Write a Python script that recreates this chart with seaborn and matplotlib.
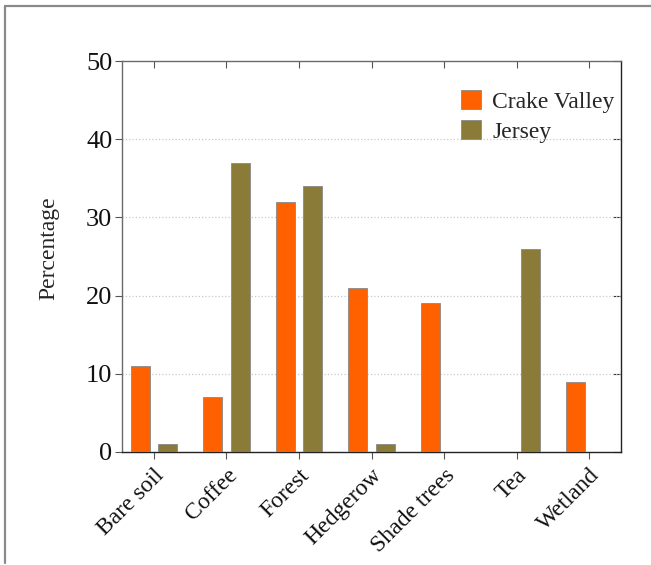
import matplotlib
matplotlib.use("Agg")
import matplotlib.pyplot as plt
from matplotlib.lines import Line2D
import seaborn as sns
import pandas as pd

categories = ["Bare soil", "Coffee", "Forest", "Hedgerow", "Shade trees", "Tea", "Wetland"]
crake_valley = [11, 7, 32, 21, 19, 0, 9]
jersey = [1, 37, 34, 1, 0, 26, 0]
series_names = ["Crake Valley", "Jersey"]
y_ticks = [0, 10, 20, 30, 40, 50]

sns.set_theme(style="white")
plt.rcParams["font.family"] = ["Liberation Serif", "DejaVu Serif"]

df = pd.DataFrame({
    "Land use": categories * 2,
    "Percentage": crake_valley + jersey,
    "Site": [series_names[0]] * len(categories) + [series_names[1]] * len(categories),
})

fig = plt.figure(figsize=(6.51, 5.65), dpi=100)
ax = fig.add_axes([122 / 651, 1 - 452 / 565, 499 / 651, 391 / 565])

palette = {series_names[0]: "#FF6100", series_names[1]: "#8B7B38"}
sns.barplot(data=df, x="Land use", y="Percentage", hue="Site", palette=palette,
            width=0.75, gap=0.3, edgecolor="#888888", linewidth=0.6,
            saturation=1, ax=ax, zorder=3)

ax.set_xlim(-0.44, 6.44)
ax.set_ylim(0, 50)
ax.set_yticks(y_ticks)
ax.set_yticklabels([str(v) for v in y_ticks], fontsize=19)
ax.set_xlabel("")
ax.set_ylabel("Percentage", fontsize=17, labelpad=19, y=0.52)

ax.set_xticks(range(len(categories)))
ax.set_xticklabels(categories, rotation=45, ha="right", rotation_mode="anchor", fontsize=17)

for y in y_ticks[1:-1]:
    ax.axhline(y, color="#c8c8c8", linestyle=":", linewidth=0.9, zorder=1)

ax.tick_params(axis="both", which="major", direction="out", length=5, width=0.8,
               color="#555555", bottom=True, left=True, labelcolor="#111111", pad=2)
ax.tick_params(axis="x", pad=4)

for side in ["left", "top"]:
    ax.spines[side].set_color("#6a6a6a")
    ax.spines[side].set_linewidth(1.0)
for side in ["right", "bottom"]:
    ax.spines[side].set_color("#222222")
    ax.spines[side].set_linewidth(1.0)

# mirrored ticks pointing inward on the top and right edges
top = ax.secondary_xaxis("top")
top.set_xticks(range(len(categories)))
top.tick_params(direction="in", length=5, width=0.8, color="#555555", labeltop=False)
top.spines["top"].set_visible(False)
right = ax.secondary_yaxis("right")
right.set_yticks(y_ticks)
right.tick_params(direction="in", length=6, width=0.8, color="#333333", labelright=False)
right.spines["right"].set_visible(False)

handles, labels = ax.get_legend_handles_labels()
ax.legend(handles, labels, loc="upper left", bbox_to_anchor=(0.68, 0.925),
          frameon=False, fontsize=17, handlelength=0.82, handleheight=0.82,
          handletextpad=0.48, labelspacing=0.33, borderpad=0, borderaxespad=0)

# page frame along the top and left edges
fig.add_artist(Line2D([5 / 651, 5 / 651], [1 - 6 / 565, 1 - 563 / 565],
                      transform=fig.transFigure, color="#8a8a8a", linewidth=1.6))
fig.add_artist(Line2D([5 / 651, 1.0], [1 - 6 / 565, 1 - 6 / 565],
                      transform=fig.transFigure, color="#8a8a8a", linewidth=1.6))

fig.savefig("out.png", dpi=100)
